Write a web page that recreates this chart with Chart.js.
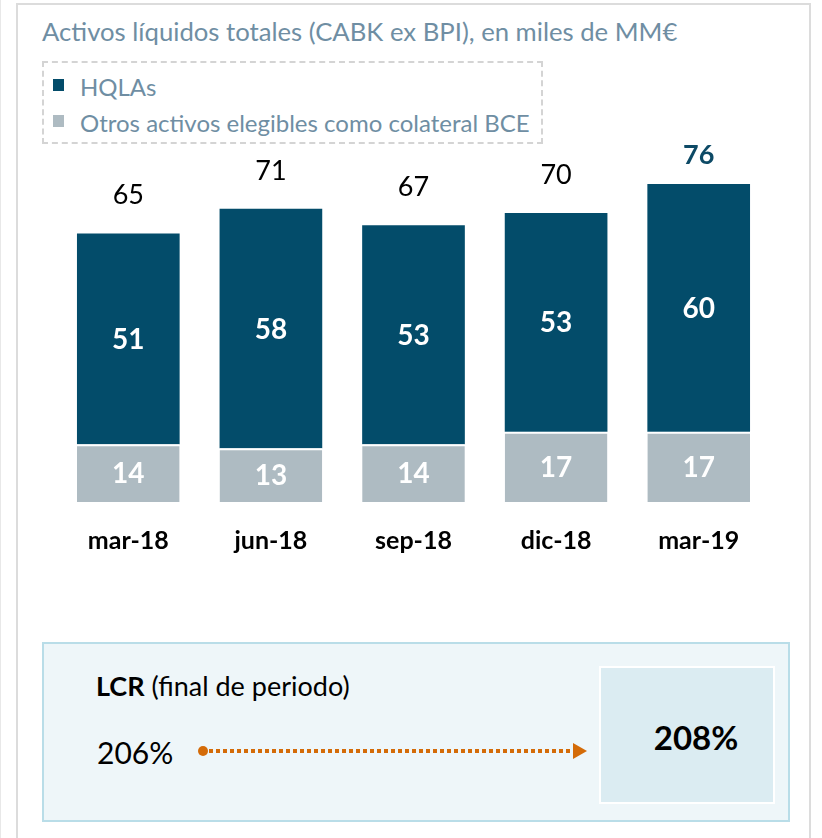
<!DOCTYPE html>
<html><head><meta charset="utf-8">
<script src="https://cdn.jsdelivr.net/npm/chart.js@4"></script>
<style>
html,body{margin:0;padding:0;background:#fff;width:822px;height:838px;overflow:hidden;font-family:Lato,"Open Sans",sans-serif;}
#edge{position:absolute;left:0;top:0;width:1px;height:838px;background:#e8e8e8;}
#frame{position:absolute;left:16px;top:3px;width:795px;height:860px;border:2px solid #dcdcdc;box-sizing:border-box;}
#title{position:absolute;left:42px;top:19px;font-size:25.7px;line-height:1;color:#6f8ea3;white-space:nowrap;}
#legend{position:absolute;left:42px;top:61px;width:501px;height:83px;border:2px dashed #d4d4d4;box-sizing:border-box;}
.li{position:absolute;left:36px;font-size:24px;line-height:1;color:#6f8ea3;white-space:nowrap;}
.sw{position:absolute;left:-27px;top:4px;width:11px;height:12px;}
#chartwrap{position:absolute;left:0;top:0;width:822px;height:600px;}
#lcr{position:absolute;left:42px;top:642px;width:748px;height:180px;border:2px solid #b9dde8;background:#eef6f9;box-sizing:border-box;}
#inner{position:absolute;left:599px;top:666px;width:176px;height:138px;border:2px solid #fff;background:#dbecf2;box-sizing:border-box;}
#lcrlab{position:absolute;left:96px;top:672px;font-size:27px;line-height:1;color:#000;white-space:nowrap;}
#v1{position:absolute;left:97px;top:737px;font-size:30px;line-height:1;color:#000;}
#v2{position:absolute;left:617px;top:721px;width:158px;text-align:center;font-size:33px;line-height:1;font-weight:bold;color:#000;}
svg{position:absolute;left:0;top:0;}
</style></head>
<body>
<div id="edge"></div>
<div id="frame"></div>
<div id="title">Activos líquidos totales (CABK ex BPI), en miles de MM€</div>
<div id="legend">
  <div class="li" style="top:12px"><span class="sw" style="background:#034c6a"></span>HQLAs</div>
  <div class="li" style="top:48px"><span class="sw" style="background:#aebbc2"></span>Otros activos elegibles como colateral BCE</div>
</div>
<div id="chartwrap"><canvas id="c" width="822" height="600"></canvas></div>
<div id="lcr"></div>
<div id="inner"></div>
<div id="lcrlab"><b>LCR</b> (final de periodo)</div>
<div id="v1">206%</div>
<div id="v2">208%</div>
<svg width="822" height="838">
  <circle cx="203" cy="751" r="5" fill="#d46b08"/>
  <line x1="209" y1="751" x2="574" y2="751" stroke="#d46b08" stroke-width="4" stroke-dasharray="4 3"/>
  <polygon points="573,743 587,751 573,759" fill="#d46b08"/>
</svg>
<script>
const categories = ['mar-18','jun-18','sep-18','dic-18','mar-19'];
const otrosActivos = [14,13,14,17,17];
const hqlas = [51,58,53,53,60];
const totales = [65,71,67,70,76];

const labelPlugin = {
  id:'barLabels',
  afterDatasetsDraw(chart){
    const ctx = chart.ctx;
    ctx.save();
    ctx.textAlign='center'; ctx.textBaseline='middle';
    chart.data.datasets.forEach((ds,di)=>{
      const meta = chart.getDatasetMeta(di);
      meta.data.forEach((bar,i)=>{
        const mid = (bar.y + bar.base)/2;
        ctx.font = 'bold 28px Lato';
        ctx.fillStyle = '#ffffff';
        ctx.fillText(String(ds.data[i]), bar.x, mid+1);
      });
    });
    const meta = chart.getDatasetMeta(1);
    const ys = chart.scales.y;
    meta.data.forEach((bar,i)=>{
      const last = i===totales.length-1;
      ctx.font = (last?'bold ':'')+'27px Lato';
      ctx.fillStyle = last ? '#0d4a66' : '#000000';
      ctx.fillText(String(totales[i]), bar.x, ys.getPixelForValue(totales[i]) - (last?33:38));
    });
    ctx.restore();
  }
};

new Chart(document.getElementById('c'), {
  type:'bar',
  data:{
    labels:categories,
    datasets:[
      {label:'Otros activos elegibles como colateral BCE', data:otrosActivos, backgroundColor:'#aebbc2',
       borderColor:'#ffffff', borderWidth:{top:2,left:0,right:0,bottom:0}, borderSkipped:false},
      {label:'HQLAs', data:hqlas, backgroundColor:'#034c6a', borderWidth:0}
    ]
  },
  options:{
    responsive:false, animation:false,
    layout:{padding:{top:151,left:57,right:52,bottom:38}},
    plugins:{legend:{display:false}, tooltip:{enabled:false}},
    scales:{
      x:{stacked:true, barPercentage:0.675, categoryPercentage:1,
         grid:{display:false}, border:{display:false},
         ticks:{color:'#000', font:{family:'Lato', size:25, weight:'bold'}, padding:16},
         afterFit:(s)=>{s.height=60;}},
      y:{stacked:true, min:0, max:85, display:false}
    }
  },
  plugins:[labelPlugin]
});
</script>
</body></html>
